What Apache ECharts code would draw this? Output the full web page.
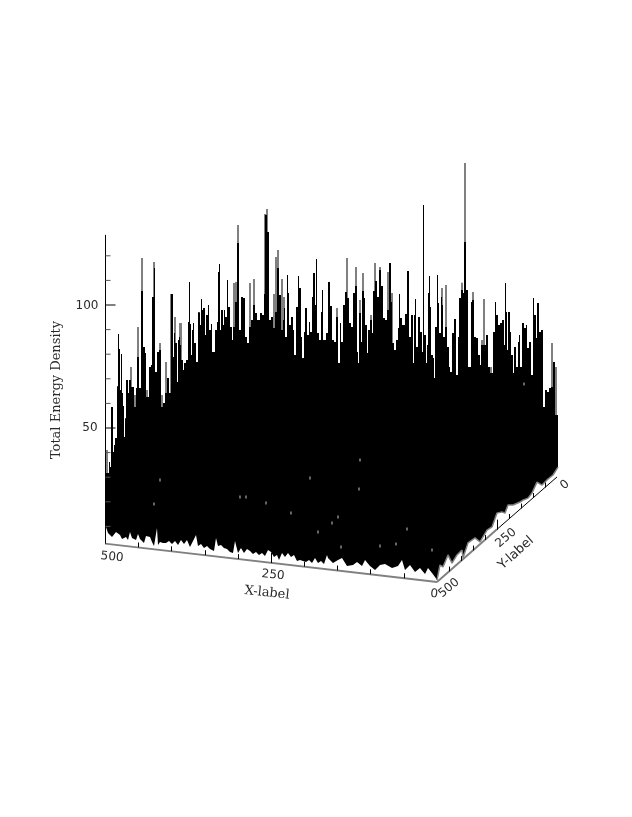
<!DOCTYPE html>
<html>
<head>
<meta charset="utf-8">
<script src="https://cdn.jsdelivr.net/npm/echarts@6/dist/echarts.min.js"></script>
<style>
  html, body { margin: 0; background: #fff; }
  #chart { width: 632px; height: 817px; }
</style>
</head>
<body>
<div id="chart"></div>
<script>
// upper outline of the surface as seen on the page: column along the page, energy density read there
let topCols = [106,109,110,111,113,114,115,117,118,119,120,121,122,123,124,125,126,128,129,131,134,136,137,139,141,143,145,146,149,151,152,154,155,157,159,161,163,165,167,169,171,173,174,175,177,178,179,180,181,183,184,186,188,189,190,191,192,193,194,196,198,200,201,202,203,205,206,208,209,211,212,215,217,218,219,220,221,223,224,225,227,228,230,232,233,235,237,239,241,243,245,247,249,251,253,255,257,260,262,264,265,267,269,271,273,275,277,279,281,283,284,285,287,288,289,291,293,294,296,298,299,301,302,304,305,307,309,310,312,313,315,316,317,319,321,322,323,326,328,330,332,334,336,338,340,341,343,345,347,349,351,353,355,357,358,359,361,362,364,365,367,368,370,372,373,375,377,379,381,383,385,387,389,391,392,394,396,398,399,400,402,405,407,409,411,413,414,415,416,418,420,422,423,424,426,427,428,429,430,431,433,434,435,437,438,439,441,442,443,445,447,449,450,452,454,456,458,459,461,463,464,466,468,471,472,474,476,478,480,481,486,488,490,493,495,496,498,500,502,504,505,506,507,508,510,511,513,514,516,518,519,520,522,524,526,527,529,531,533,534,536,537,539,541,543,545,547,549,551,553,555,558];
let topValues = [31.7,36.2,34.1,58.5,40.2,43.1,45.9,67.0,88.2,82.1,65.4,80.1,64.2,58.9,46.3,54.0,69.5,64.2,69.5,66.7,58.5,66.3,78.9,66.3,105.7,82.9,80.5,62.6,74.8,75.6,103.3,115.0,72.8,80.9,81.7,58.5,60.2,64.2,70.3,64.2,104.5,78.9,88.6,84.6,68.7,85.8,87.0,83.7,77.6,73.6,76.4,77.6,93.1,109.4,92.3,79.7,89.8,92.7,84.6,76.8,97.1,91.9,102.4,98.0,98.8,87.8,95.9,100.0,89.8,92.3,80.9,89.8,93.1,113.4,116.7,89.8,98.0,91.9,98.0,95.1,110.2,99.2,91.1,85.8,91.1,101.2,125.2,89.8,103.3,102.8,87.0,84.6,91.1,93.9,100.0,96.7,93.9,96.7,95.9,104.5,136.6,129.7,93.9,95.1,90.7,97.2,115.0,104.1,89.8,93.9,98.8,87.0,112.2,104.9,91.9,95.1,89.8,79.7,99.2,111.8,106.9,87.0,78.5,89.0,98.8,87.8,93.1,89.0,103.3,113.0,100.0,118.7,88.6,85.8,97.2,106.1,85.8,88.6,109.4,99.6,85.8,85.0,95.1,76.4,92.7,85.0,100.0,105.3,102.8,92.7,91.1,104.9,107.7,80.9,76.4,96.7,85.0,105.7,102.8,91.9,80.5,89.8,93.9,88.6,105.7,109.8,103.3,114.2,107.7,94.7,93.9,98.0,117.1,101.2,84.6,81.7,85.8,90.7,104.5,94.7,91.9,96.3,113.8,87.0,95.9,76.4,95.9,102.4,82.9,95.1,89.0,80.9,140.7,87.8,76.4,83.7,104.9,111.8,99.2,79.7,78.5,70.3,91.1,112.2,100.8,88.6,103.3,100.0,87.0,91.1,82.9,74.8,72.8,88.6,94.3,71.5,87.0,102.8,106.1,104.9,125.6,106.1,74.8,101.2,102.0,87.0,86.6,79.7,75.6,83.7,87.8,74.8,72.4,89.0,101.2,95.9,91.9,92.7,93.9,83.7,108.9,97.2,81.7,97.2,89.0,79.7,72.4,82.9,74.8,85.0,87.8,74.8,92.7,90.7,91.9,82.5,85.0,71.5,102.8,95.9,86.6,100.8,89.0,89.8,58.5,65.4,64.6,66.3,66.7,76.8,55.3,55.3];

// grey peaks standing behind the outline
let greyCols = [106,130,134,137,141,146,153,159,161,165,170,174,179,180,233,235,237,249,253,264,266,273,275,277,281,283,336,346,355,359,362,370,374,379,387,391,441,445,461,464,472,481,483,490,551,553,555];
let greyValues = [41.1,74.8,63.4,91.1,119.1,65.4,117.5,84.6,63.4,76.8,104.5,95.1,92.7,92.7,108.9,109.4,132.5,108.9,110.6,137.0,139.0,104.5,119.5,122.4,110.6,103.3,98.8,119.1,115.4,102.0,113.0,95.9,117.1,115.4,113.4,104.9,106.9,108.1,109.0,157.7,105.3,85.8,102.4,74.8,84.6,76.8,74.8];

// lower outline, the fringe above the floor edges
let floorCols = [105,106,108,110,112,114,116,118,120,122,124,126,128,130,132,134,136,138,140,142,144,146,148,150,152,154,157,158,160,163,166,169,172,175,178,181,184,187,190,192,196,198,201,204,207,210,214,216,218,221,224,227,230,233,235,238,241,244,247,250,253,256,259,262,265,268,271,274,277,279,282,285,288,291,294,297,300,303,306,309,312,315,318,321,324,327,328,333,338,342,347,353,357,362,365,370,375,380,385,392,398,402,405,410,415,420,425,428,432,435,437,440,443,448,452,457,462,463,468,475,480,487,492,497,502,505,508,513,520,523,528,532,537,542,547,553,558];
let floorValues = [3.0,9.8,7.3,8.1,5.7,6.1,7.7,7.3,6.5,4.9,4.9,5.7,4.5,7.7,5.3,4.5,4.5,6.9,4.9,4.1,3.3,6.1,6.9,5.7,3.7,2.0,9.3,2.4,3.7,3.3,3.3,4.1,2.8,4.1,2.4,4.5,2.8,4.5,1.6,2.0,6.5,2.0,2.8,1.2,2.0,0.8,0,5.3,2.0,2.4,1.2,0.8,-0.4,-0.8,4.1,-0.8,1.2,-0.8,0.8,0,-1.2,-0.4,-1.6,-0.8,-2.0,0.4,-0.4,-2.4,-1.6,-3.7,-0.8,-2.4,-0.8,-2.4,-1.6,-4.1,-3.7,-4.1,-4.5,-3.7,-4.9,-2.8,-4.9,-4.1,-5.3,-1.6,-2.8,-4.9,-3.7,-2.8,-6.1,-5.7,-4.5,-6.1,-3.7,-6.1,-7.7,-5.7,-5.3,-6.9,-6.1,-3.7,-7.7,-5.7,-8.5,-6.9,-9.3,-6.9,-8.9,-10.6,-11.8,-5.7,-6.5,-1.6,-4.9,-1.6,0.4,-2.8,3.3,5.3,3.7,8.5,9.8,15.4,15.9,15.4,18.7,18.7,19.9,20.7,21.5,23.6,28.0,26.8,28.9,30.9,34.1];

// specks that show through the black body
let whiteSpecks = [[291,15.4],[318,7.7],[332,11.4],[407,8.9],[396,2.8],[240,22.0],[246,22.0],[310,29.7],[524,67.9]];
let greySpecks = [[266,19.5],[154,19.1],[360,37.0],[359,25.2],[338,13.8],[341,1.6],[380,2.0],[432,0.4],[160,28.9]];

// axes
let zAxisCol = 105.5;
let zAxisRange = [3, 128.5];
let zMinorTicks = [10,20,30,40,60,70,80,90,110,120];
let zMajorTicks = [50,100];
let xEdgeCols = [105,437];
let xEdgeValues = [3.0,-12.6];
let yEdgeCols = [437,497,557];
let yEdgeValues = [-12.6,8.8,30.1];
let xTickCols = [138,171,205,238,271,304,337,370,404];
let xMajorCols = [271];
let yTickCols = [449,461,473,485,497,509,521,533,545];
let yMajorCols = [497];

let digitFont = '"DejaVu Sans", sans-serif';
let titleFont = '"DejaVu Serif", serif';
let textColor = '#2a2a2a';
let bottomValue = -50;

function edgeValueAt(col, cols, values) {
  let t = (col - cols[0]) / (cols[cols.length - 1] - cols[0]);
  return values[0] + t * (values[values.length - 1] - values[0]);
}

// short upright ticks standing on an edge, separated by gaps
function edgeTicks(ticks, cols, values, rise) {
  let out = [];
  ticks.forEach(function(c) {
    let base = edgeValueAt(c, cols, values);
    out.push([c + 0.5, base], [c + 0.5, base + rise], [c + 0.5, '-']);
  });
  return out;
}

function zTicks(ticks, len) {
  let out = [];
  ticks.forEach(function(z) {
    out.push([zAxisCol, z], [zAxisCol + len, z], [zAxisCol, '-']);
  });
  return out;
}

function pairs(cols, values) {
  return cols.map(function(c, i) { return [c, values[i]]; });
}

// each entry fills from its column up to the next one
function spans(cols, values) {
  let out = [];
  for (let i = 0; i < cols.length - 1; i++) {
    out.push([cols[i], cols[i + 1], values[i]]);
  }
  return out;
}

function columnSeries(data, color, z) {
  return {
    type: 'custom',
    data: data,
    silent: true,
    clip: false,
    encode: { x: [0, 1], y: 2 },
    z: z,
    renderItem: function(params, api) {
      let a = api.coord([api.value(0), api.value(2)]);
      let b = api.coord([api.value(1), bottomValue]);
      return {
        type: 'rect',
        shape: { x: a[0], y: a[1], width: b[0] - a[0], height: b[1] - a[1] },
        style: { fill: color }
      };
    }
  };
}

function lineSeries(data, color, width) {
  return {
    type: 'line',
    data: data,
    symbol: 'none',
    silent: true,
    lineStyle: { color: color, width: width },
    z: 6
  };
}

function label(text, x, y, deg, size, font) {
  return {
    type: 'text',
    x: x,
    y: y,
    rotation: deg * Math.PI / 180,
    z: 10,
    style: {
      text: text,
      fill: textColor,
      font: size + 'px ' + font,
      align: 'center',
      verticalAlign: 'middle'
    }
  };
}

let floorLine = pairs(floorCols, floorValues);

let option = {
  animation: false,
  backgroundColor: '#fff',
  grid: { left: 0, top: 59, width: 632, height: 615 },
  xAxis: { type: 'value', min: 0, max: 632, show: false },
  yAxis: { type: 'value', min: bottomValue, max: 200, show: false },
  series: [
    {
      type: 'bar',
      data: pairs(greyCols, greyValues).map(function(d) { return [d[0] + 1, d[1]]; }),
      barWidth: 2,
      silent: true,
      itemStyle: { color: '#808080' },
      z: 1
    },
    columnSeries(spans(topCols, topValues), '#000', 2),
    {
      type: 'line',
      data: floorLine,
      symbol: 'none',
      silent: true,
      lineStyle: { width: 0 },
      areaStyle: { color: '#fff', opacity: 1, origin: 'start' },
      z: 3
    },
    // the grey fringe along the right-hand edge
    {
      type: 'line',
      data: floorLine.filter(function(d) { return d[0] >= xEdgeCols[1]; }),
      symbol: 'none',
      silent: true,
      lineStyle: { color: '#808080', width: 1.5 },
      z: 4
    },
    {
      type: 'scatter',
      data: whiteSpecks,
      symbol: 'rect',
      symbolSize: [1, 3],
      silent: true,
      itemStyle: { color: '#fff' },
      z: 5
    },
    {
      type: 'scatter',
      data: greySpecks,
      symbol: 'rect',
      symbolSize: [2, 3],
      silent: true,
      itemStyle: { color: '#808080' },
      z: 5
    },
    lineSeries(pairs(xEdgeCols, xEdgeValues), '#808080', 2),
    lineSeries(pairs(yEdgeCols.slice(0, 2), yEdgeValues.slice(0, 2)), '#808080', 2),
    lineSeries(pairs(yEdgeCols.slice(1), yEdgeValues.slice(1)), '#000', 1),
    lineSeries([[zAxisCol, zAxisRange[0]], [zAxisCol, zAxisRange[1]]], '#000', 1),
    lineSeries(zTicks(zMinorTicks, 5), '#555', 1),
    lineSeries(zTicks(zMajorTicks, 10), '#000', 1),
    lineSeries(edgeTicks(xTickCols, xEdgeCols, xEdgeValues, 2), '#000', 1),
    lineSeries(edgeTicks(xMajorCols, xEdgeCols, xEdgeValues, 4), '#000', 1),
    lineSeries(edgeTicks(yTickCols, yEdgeCols, yEdgeValues, 2), '#000', 1),
    lineSeries(edgeTicks(yMajorCols, yEdgeCols, yEdgeValues, 4), '#000', 1)
  ],
  graphic: [
    label('100', 87, 306, 0, 12, digitFont),
    label('50', 90, 428, 0, 12, digitFont),
    label('Total Energy Density', 57, 390, 90, 13, titleFont),
    label('500', 112, 557, -6, 12, digitFont),
    label('250', 273, 575, -6, 12, digitFont),
    label('X-label', 267, 593, -6, 13, titleFont),
    label('0', 434, 594, -6, 12, digitFont),
    label('500', 449, 588, 40, 12, digitFont),
    label('250', 506, 538, 40, 12, digitFont),
    label('0', 565, 485, 40, 12, digitFont),
    label('Y-label', 516, 553, 42, 13, digitFont)
  ]
};

let chart = echarts.init(document.getElementById('chart'));
chart.setOption(option);
</script>
</body>
</html>
